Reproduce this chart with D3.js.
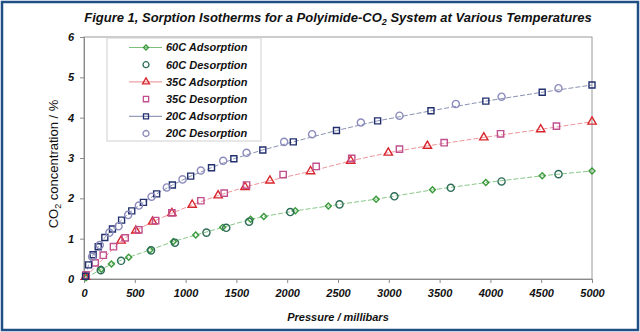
<!DOCTYPE html>
<html>
<head>
<meta charset="utf-8">
<script src="https://cdn.jsdelivr.net/npm/d3@7"></script>
<style>
  body { margin: 0; background: #fff; }
  svg text { font-family: "Liberation Sans", Arial, sans-serif; }
</style>
</head>
<body>
<div id="chart"></div>
<script>
const width = 640;
const height = 332;
const margin = { left: 84, top: 37, right: 48, bottom: 53 };
const chartWidth = width - margin.left - margin.right;
const chartHeight = height - margin.top - margin.bottom;

const xTicks = [0, 500, 1000, 1500, 2000, 2500, 3000, 3500, 4000, 4500, 5000];
const yTicks = [0, 1, 2, 3, 4, 5, 6];

const seriesNames = ["60C Adsorption", "60C Desorption", "35C Adsorption", "35C Desorption", "20C Adsorption", "20C Desorption"];

const ads60P = [20, 170, 270, 440, 650, 880, 1100, 1365, 1640, 1770, 2080, 2405, 2875, 3430, 3955, 4510, 5000];
const ads60C = [0.03, 0.24, 0.37, 0.54, 0.72, 0.93, 1.09, 1.28, 1.48, 1.55, 1.69, 1.81, 1.98, 2.21, 2.39, 2.56, 2.68];

const des60P = [165, 365, 660, 895, 1205, 1400, 1625, 2030, 2515, 3055, 3610, 4110, 4670];
const des60C = [0.22, 0.45, 0.71, 0.90, 1.15, 1.27, 1.42, 1.66, 1.85, 2.05, 2.26, 2.42, 2.60];

const ads35P = [15, 365, 510, 675, 865, 1065, 1320, 1585, 1830, 2230, 2625, 2995, 3380, 3935, 4495, 5000];
const ads35C = [0.05, 0.95, 1.20, 1.42, 1.63, 1.84, 2.07, 2.28, 2.44, 2.67, 2.93, 3.13, 3.30, 3.51, 3.71, 3.90];

const des35P = [20, 110, 190, 290, 405, 540, 705, 865, 1150, 1380, 1600, 1960, 2285, 2635, 3105, 3545, 4100, 4650];
const des35C = [0.10, 0.40, 0.59, 0.80, 1.02, 1.22, 1.45, 1.64, 1.94, 2.13, 2.33, 2.59, 2.79, 2.99, 3.22, 3.38, 3.60, 3.79];

const ads20P = [15, 45, 90, 140, 205, 280, 370, 470, 585, 715, 870, 1050, 1255, 1475, 1760, 2060, 2485, 2890, 3415, 3955, 4510, 5000];
const ads20C = [0.07, 0.35, 0.60, 0.80, 1.03, 1.24, 1.46, 1.69, 1.90, 2.11, 2.33, 2.55, 2.76, 2.98, 3.20, 3.40, 3.68, 3.92, 4.17, 4.41, 4.63, 4.81];

const des20P = [80, 155, 250, 340, 435, 540, 665, 815, 970, 1150, 1370, 1600, 1970, 2245, 2725, 3105, 3660, 4110, 4670];
const des20C = [0.55, 0.84, 1.15, 1.31, 1.59, 1.82, 2.04, 2.27, 2.47, 2.69, 2.93, 3.13, 3.40, 3.59, 3.88, 4.05, 4.34, 4.52, 4.73];

// diamonds are squares turned 45 degrees
const series = [
  { name: seriesNames[0], p: ads60P, c: ads60C, symbol: d3.symbolSquare, rotate: 45, size: 18, color: "#3a9a3a", line: "#7cbf7c" },
  { name: seriesNames[1], p: des60P, c: des60C, symbol: d3.symbolCircle, rotate: 0, size: 40, color: "#2e6e58", line: null },
  { name: seriesNames[2], p: ads35P, c: ads35C, symbol: d3.symbolTriangle, rotate: 0, size: 30, color: "#d8262e", line: "#e88a8e" },
  { name: seriesNames[3], p: des35P, c: des35C, symbol: d3.symbolSquare, rotate: 0, size: 40, color: "#c2508e", line: null },
  { name: seriesNames[4], p: ads20P, c: ads20C, symbol: d3.symbolSquare, rotate: 0, size: 36, color: "#22306e", line: "#7c84a8" },
  { name: seriesNames[5], p: des20P, c: des20C, symbol: d3.symbolCircle, rotate: 0, size: 40, color: "#8c8cbc", line: null },
];

const svgRoot = d3.select("#chart").append("svg").attr("width", width).attr("height", height);

// outer frame
svgRoot.append("rect")
  .attr("x", 2).attr("y", 2).attr("width", width - 4).attr("height", height - 4)
  .attr("fill", "#fff").attr("stroke", "#1f4f85").attr("stroke-width", 2.5);

// title
const title = svgRoot.append("text")
  .attr("x", 338).attr("y", 22)
  .attr("text-anchor", "middle")
  .style("font-size", "13px").style("font-weight", "bold").style("font-style", "italic")
  .attr("fill", "#111");
title.append("tspan").text("Figure 1, Sorption Isotherms for a Polyimide-CO");
title.append("tspan").attr("dy", 3).style("font-size", "9px").text("2");
title.append("tspan").attr("dy", -3).text(" System at Various Temperatures");

const svg = svgRoot.append("g").attr("transform", `translate(${margin.left},${margin.top})`);

const x = d3.scaleLinear().domain([0, 5000]).range([0, chartWidth]);
const y = d3.scaleLinear().domain([0, 6]).range([chartHeight, 0]);

// plot frame
svg.append("rect")
  .attr("width", chartWidth).attr("height", chartHeight)
  .attr("fill", "none").attr("stroke", "#9a9a9a").attr("stroke-width", 1);

const xAxis = svg.append("g")
  .attr("transform", `translate(0,${chartHeight})`)
  .call(d3.axisBottom(x).tickValues(xTicks).tickSize(4).tickPadding(6).tickFormat(d3.format("d")));
const yAxis = svg.append("g")
  .call(d3.axisLeft(y).tickValues(yTicks).tickSize(4).tickPadding(6).tickFormat(d3.format("d")));

[xAxis, yAxis].forEach((a) => {
  a.select(".domain").attr("stroke", "#8a8a8a");
  a.selectAll(".tick line").attr("stroke", "#8a8a8a");
  a.selectAll("text")
    .style("font-size", "11px").style("font-weight", "bold").style("font-style", "italic")
    .attr("fill", "#111");
});

// axis titles
svgRoot.append("text")
  .attr("x", margin.left + x(2500)).attr("y", 321)
  .attr("text-anchor", "middle")
  .style("font-size", "11px").style("font-weight", "bold").style("font-style", "italic")
  .attr("fill", "#111")
  .text("Pressure / millibars");

const yTitle = svgRoot.append("text")
  .attr("transform", `translate(58,${margin.top + chartHeight / 2 + 6}) rotate(-90)`)
  .attr("text-anchor", "middle")
  .style("font-size", "13px")
  .attr("fill", "#111");
yTitle.append("tspan").text("CO");
yTitle.append("tspan").attr("dy", 3).style("font-size", "9px").text("2");
yTitle.append("tspan").attr("dy", -3).text(" concentration / %");

// lines for adsorption series
series.filter((s) => s.line).forEach((s) => {
  const pts = s.p.map((p, i) => [p, s.c[i]]);
  svg.append("path")
    .datum(pts)
    .attr("fill", "none")
    .attr("stroke", s.line)
    .attr("stroke-width", 0.9)
    .attr("stroke-dasharray", "5,2")
    .attr("d", d3.line().x((d) => x(d[0])).y((d) => y(d[1])));
});

// markers
series.forEach((s) => {
  const pts = s.p.map((p, i) => [p, s.c[i]]);
  svg.append("g")
    .selectAll("path")
    .data(pts)
    .enter()
    .append("path")
    .attr("transform", (d) => `translate(${x(d[0])},${y(d[1])}) rotate(${s.rotate})`)
    .attr("d", d3.symbol().type(s.symbol).size(s.size))
    .attr("fill", "none")
    .attr("stroke", s.color)
    .attr("stroke-width", 1.4);
});

// legend
const legend = svgRoot.append("g").attr("transform", "translate(107,38)");
legend.append("rect")
  .attr("width", 154).attr("height", 103)
  .attr("fill", "#fff").attr("stroke", "#d0d0d0");

const items = legend.selectAll(".legend")
  .data(series)
  .enter()
  .append("g")
  .attr("transform", (d, i) => `translate(0,${9.5 + i * 17.2})`);

items.filter((d) => d.line)
  .append("line")
  .attr("x1", 22).attr("x2", 55)
  .attr("stroke", (d) => d.line).attr("stroke-width", 1);

items.append("path")
  .attr("transform", (d) => `translate(39,0) rotate(${d.rotate})`)
  .attr("d", (d) => d3.symbol().type(d.symbol).size(d.size * 0.7)())
  .attr("fill", "none")
  .attr("stroke", (d) => d.color)
  .attr("stroke-width", 1.3);

items.append("text")
  .attr("x", 59).attr("y", 0).attr("dy", "0.35em")
  .style("font-size", "11px").style("font-weight", "bold").style("font-style", "italic")
  .attr("fill", "#111")
  .text((d) => d.name);
</script>
</body>
</html>
